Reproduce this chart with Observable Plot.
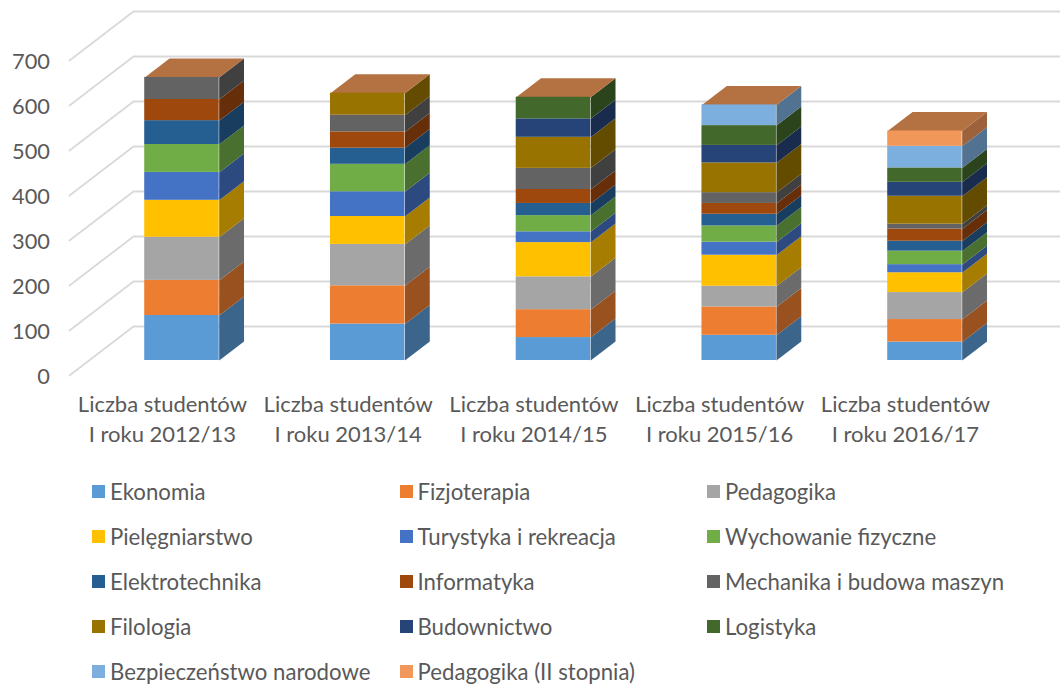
<!DOCTYPE html>
<html lang="pl">
<head>
<meta charset="utf-8">
<script src="https://cdn.jsdelivr.net/npm/d3@7"></script>
<script src="https://cdn.jsdelivr.net/npm/@observablehq/plot@0.6"></script>
<style>
  html, body { margin: 0; padding: 0; background: #fff; overflow: hidden; }
  #legend {
    display: grid;
    grid-template-columns: repeat(3, 307.5px);
    grid-auto-rows: 45px;
    margin-left: 92px;
    font: 22.2px Lato, sans-serif;
    color: #595959;
  }
  .item { display: flex; align-items: center; white-space: nowrap; }
  .sw { width: 13px; height: 13px; margin-right: 5px; flex: none; }
</style>
</head>
<body>
<div id="chart"></div>
<div id="legend"></div>
<script>
const categories = ["Liczba studentów\nI roku 2012/13", "Liczba studentów\nI roku 2013/14", "Liczba studentów\nI roku 2014/15", "Liczba studentów\nI roku 2015/16", "Liczba studentów\nI roku 2016/17"];
const seriesNames = ["Ekonomia", "Fizjoterapia", "Pedagogika", "Pielęgniarstwo", "Turystyka i rekreacja", "Wychowanie fizyczne", "Elektrotechnika", "Informatyka", "Mechanika i budowa maszyn", "Filologia", "Budownictwo", "Logistyka", "Bezpieczeństwo narodowe", "Pedagogika (II stopnia)"];
const colors = ["#5B9BD5", "#ED7D31", "#A5A5A5", "#FFC000", "#4472C4", "#70AD47", "#255E91", "#9E480E", "#636363", "#997300", "#264478", "#43682B", "#7CAFDD", "#F1975A"];

const ekonomia      = [100, 81, 51, 56, 41];
const fizjoterapia  = [78, 85, 62, 63, 50];
const pedagogika    = [96, 92, 73, 46, 60];
const pielegniarstwo= [82, 62, 76, 69, 44];
const turystyka     = [62, 55, 24, 29, 18];
const wychowanie    = [62, 61, 36, 36, 30];
const elektro       = [53, 36, 27, 26, 22];
const informatyka   = [47, 36, 31, 24, 27];
const mechanika     = [49, 37, 47, 24, 11];
const filologia     = [0, 49, 69, 66, 62];
const budownictwo   = [0, 0, 41, 39, 31];
const logistyka     = [0, 0, 48, 44, 32];
const bezpieczenstwo= [0, 0, 0, 46, 48];
const pedagogika2   = [0, 0, 0, 0, 34];
const seriesValues = [ekonomia, fizjoterapia, pedagogika, pielegniarstwo, turystyka, wychowanie, elektro, informatyka, mechanika, filologia, budownictwo, logistyka, bezpieczenstwo, pedagogika2];
const yTicks = [0, 100, 200, 300, 400, 500, 600, 700];

// oblique projection of the chart's depth axis, in data units
const depthX = 0.3445, depthY = 108.9;
const barFront = 0.306, barBack = 0.694, barHalf = 0.2005;
const project = (x, v, d) => ({x: x + d * depthX, y: v + d * depthY});
const shade = (c, k) => { const r = d3.rgb(c); return d3.rgb(r.r * k, r.g * k, r.b * k).formatHex(); };
const topColor = "#B47142";

const gridPts = yTicks.flatMap(v => [
  {...project(-0.5, v, 0), v},
  {...project(-0.5, v, 1), v},
  {...project(4.5, v, 1), v}
]);

const fronts = [], faces = [];
categories.forEach((_, i) => {
  let base = 0;
  seriesValues.forEach((vals, s) => {
    const h = vals[i];
    if (!h) return;
    const top = base + h;
    const r = i + barHalf;
    const a = project(r, base, barFront), b = project(r, top, barFront);
    fronts.push({x1: a.x - 2 * barHalf, x2: a.x, y1: a.y, y2: b.y, fill: colors[s]});
    const id = `side-${i}-${s}`, fill = shade(colors[s], 0.65);
    [project(r, base, barFront), project(r, base, barBack), project(r, top, barBack), project(r, top, barFront)]
      .forEach(p => faces.push({...p, id, fill}));
    base = top;
  });
  const l = i - barHalf, r = i + barHalf;
  [project(l, base, barFront), project(r, base, barFront), project(r, base, barBack), project(l, base, barBack)]
    .forEach(p => faces.push({...p, id: `top-${i}`, fill: topColor}));
});

const plot = Plot.plot({
  width: 1060,
  height: 469,
  marginLeft: 69,
  marginRight: 0,
  marginTop: 0,
  marginBottom: 94,
  x: {domain: [-0.5, 4.5], range: [69, 997.75]},
  y: {domain: [0, 700], range: [375, 60]},
  color: {type: "identity"},
  style: {fontFamily: "Lato, sans-serif", fontSize: "22px", color: "#595959", background: "transparent"},
  marks: [
    Plot.line(gridPts, {x: "x", y: "y", z: "v", stroke: "#D9D9D9", strokeWidth: 1.8, curve: "linear"}),
    Plot.line(faces, {x: "x", y: "y", z: "id", fill: "fill", stroke: null, curve: "linear"}),
    Plot.rect(fronts, {x1: "x1", x2: "x2", y1: "y1", y2: "y2", fill: "fill"}),
    Plot.axisY(yTicks, {anchor: "left", tickSize: 0, tickPadding: 19.5, label: null, fontSize: 21.8, dy: 1.5}),
    Plot.axisX([0, 1, 2, 3, 4], {anchor: "bottom", tickSize: 0, tickPadding: 15, label: null, fontSize: 22, lineHeight: 1.36, tickFormat: i => categories[i]})
  ]
});
document.getElementById("chart").append(plot);

const legend = document.getElementById("legend");
seriesNames.forEach((name, i) => {
  const item = document.createElement("div");
  item.className = "item";
  const sw = document.createElement("span");
  sw.className = "sw";
  sw.style.background = colors[i];
  const t = document.createElement("span");
  t.textContent = name;
  item.append(sw, t);
  legend.append(item);
});
</script>
</body>
</html>
